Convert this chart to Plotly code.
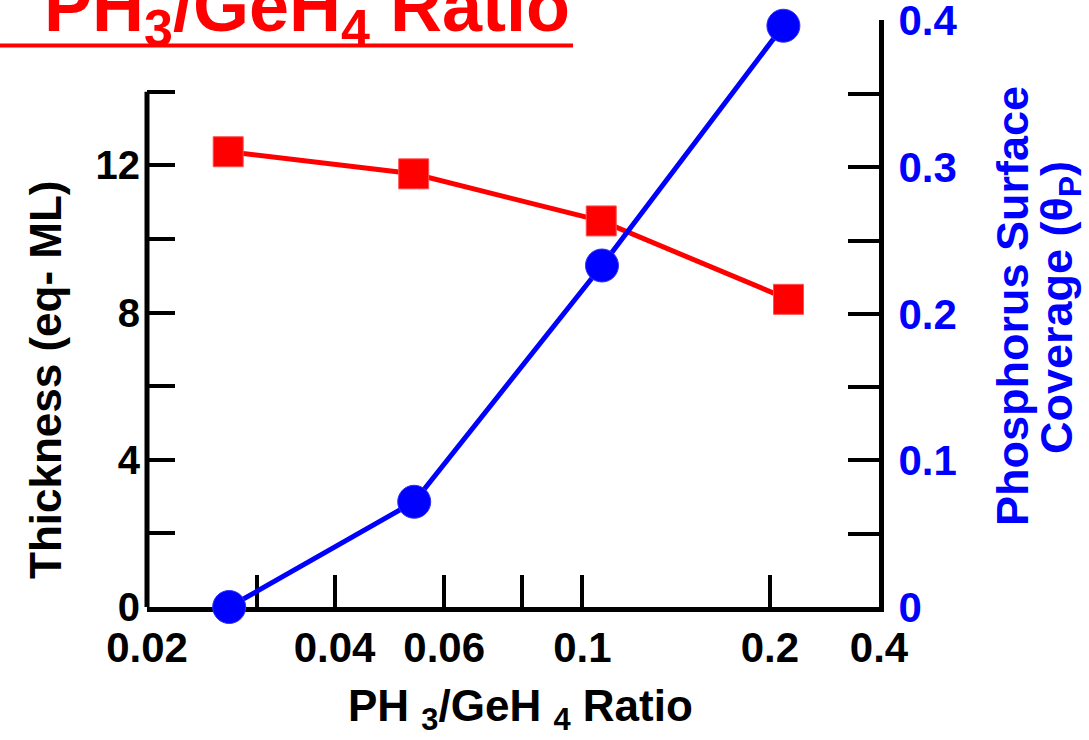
import math
import plotly.graph_objects as go

# ---- data ----
ratio_thickness = [0.0270, 0.0536, 0.1072, 0.2142]
thickness_ml = [12.37, 11.77, 10.49, 8.36]
ratio_coverage = [0.0271, 0.0537, 0.1075, 0.2102]
coverage_p = [0.0, 0.0718, 0.233, 0.3966]

x_tickvals = [0.02, 0.03, 0.04, 0.06, 0.08, 0.1, 0.2, 0.2993]
x_ticktext = ["0.02", "", "0.04", "0.06", "", "0.1", "0.2", "0.4"]
y_tickvals = [0, 2, 4, 6, 8, 10, 12, 14]
y_ticktext = ["0", "", "4", "", "8", "", "12", ""]
y2_tickvals = [0, 0.05, 0.1, 0.15, 0.2, 0.25, 0.3, 0.35, 0.4]
y2_ticktext = ["0", "", "0.1", "", "0.2", "", "0.3", "", "0.4"]

FONT = "Liberation Sans, Arial, sans-serif"
RED = "#FF0000"
BLUE = "#0000FF"

fig = go.Figure()
fig.add_trace(go.Scatter(
    x=ratio_thickness, y=thickness_ml, mode="lines+markers",
    line=dict(color=RED, width=5),
    marker=dict(symbol="square", size=30, color=RED, line=dict(color="#FF5050", width=1)),
    cliponaxis=False, showlegend=False, yaxis="y"))
fig.add_trace(go.Scatter(
    x=ratio_coverage, y=coverage_p, mode="lines+markers",
    line=dict(color=BLUE, width=5),
    marker=dict(symbol="circle", size=33, color=BLUE, line=dict(color="#3030FF", width=1)),
    cliponaxis=False, showlegend=False, yaxis="y2"))

W, H = 1089, 740
L, R, T, B = 147, 210, 20, 133
pw, ph = W - L - R, H - T - B

def px(xp):
    return (xp - L) / pw

def py(yp):
    return (H - B - yp) / ph

fig.update_layout(
    width=W, height=H, autosize=False,
    margin=dict(l=L, r=R, t=T, b=B, pad=0, autoexpand=False),
    paper_bgcolor="white", plot_bgcolor="white",
    showlegend=False,
    xaxis=dict(
        type="log", range=[math.log10(0.02), math.log10(0.2993)],
        tickvals=x_tickvals, ticktext=x_ticktext,
        ticks="inside", ticklen=32, tickwidth=4, tickcolor="black",
        showline=True, linewidth=5, linecolor="black",
        showgrid=False, zeroline=False, layer="below traces",
        ticklabelstandoff=0, ticklabeloverflow="allow", automargin=False,
        tickfont=dict(family=FONT, size=42, color="black", weight="bold"),
    ),
    yaxis=dict(
        range=[0, 15.95], tickvals=y_tickvals, ticktext=y_ticktext,
        ticks="inside", ticklen=28, tickwidth=4, tickcolor="black",
        showline=False, showgrid=False, zeroline=False,
        ticklabelstandoff=6, ticklabeloverflow="allow", automargin=False,
        tickfont=dict(family=FONT, size=40, color="black", weight="bold"),
    ),
    yaxis2=dict(
        overlaying="y", side="right", range=[0, 0.4005],
        tickvals=y2_tickvals, ticktext=y2_ticktext,
        ticks="inside", ticklen=31, tickwidth=4, tickcolor="black",
        showline=True, linewidth=5, linecolor="black",
        showgrid=False, zeroline=False,
        ticklabelstandoff=6, ticklabeloverflow="allow", automargin=False,
        tickfont=dict(family=FONT, size=42, color=BLUE, weight="bold"),
    ),
)

# left axis line (only up to 14)
fig.add_shape(type="line", xref="paper", yref="y", x0=0, x1=0, y0=-0.07, y1=14,
              line=dict(color="black", width=5))
# title underline
fig.add_shape(type="line", xref="paper", yref="paper", x0=px(0), x1=px(573),
              y0=py(45.5), y1=py(45.5), line=dict(color=RED, width=4))

fig.add_annotation(text="Thickness (eq- ML)", textangle=-90, xref="paper", yref="paper",
                   x=px(45), y=py(380), xanchor="center", yanchor="middle", showarrow=False,
                   font=dict(family=FONT, size=44, color="black", weight="bold"))
fig.add_annotation(text="PH\u00a0<sub>3</sub>/GeH\u00a0<sub>4</sub> Ratio", xref="paper", yref="paper",
                   x=px(520), y=py(709), xanchor="center", yanchor="middle", showarrow=False,
                   font=dict(family=FONT, size=44, color="black", weight="bold"))
fig.add_annotation(text="Phosphorus Surface", textangle=-90, xref="paper", yref="paper",
                   x=px(1012), y=py(306), xanchor="center", yanchor="middle", showarrow=False,
                   font=dict(family=FONT, size=45, color=BLUE, weight="bold"))
fig.add_annotation(text="Coverage (θ<sub>P</sub>)", textangle=-90, xref="paper", yref="paper",
                   x=px(1059), y=py(308), xanchor="center", yanchor="middle", showarrow=False,
                   font=dict(family=FONT, size=45, color=BLUE, weight="bold"))
fig.add_annotation(text="PH<sub><span style='font-size:52px'>3</span></sub>/GeH<sub><span style='font-size:52px'>4</span></sub> Ratio",
                   xref="paper", yref="paper",
                   x=px(571), y=py(58), xanchor="right", yanchor="bottom", showarrow=False,
                   borderpad=0,
                   font=dict(family=FONT, size=72, color=RED, weight="bold"))

fig.write_html("out.html")
